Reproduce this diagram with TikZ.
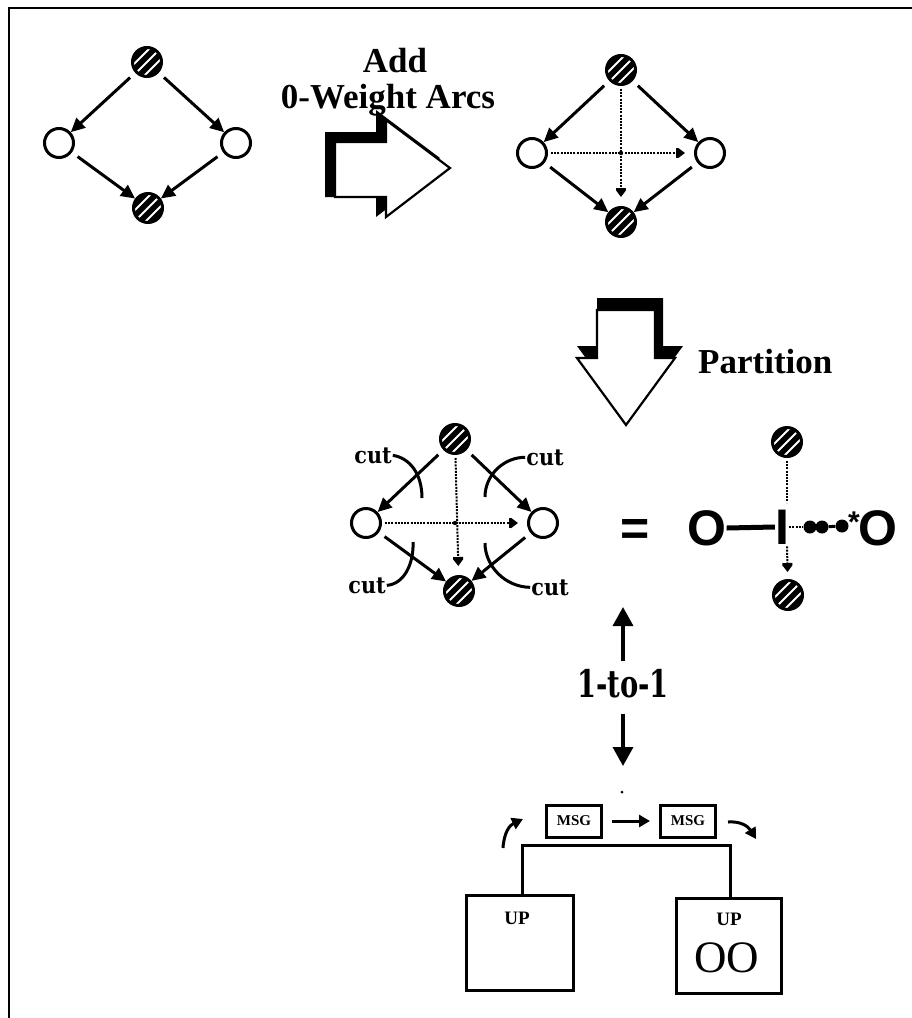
\documentclass[tikz,border=0pt]{standalone}
\usepackage{fontspec}
\setmainfont{Liberation Serif}
\newfontfamily\arialfont{Liberation Sans}
\newfontfamily\heavyserif{DejaVu Serif Condensed}
\usetikzlibrary{arrows.meta,calc}
\begin{document}
\begin{tikzpicture}[x=1pt,y=-1pt,
  hnode/.style={circle,draw,line width=3pt,fill=black,minimum size=29pt,inner sep=0pt,
    path picture={\begin{scope}[shift={(path picture bounding box.center)}]
      \foreach \o in {0,1,2}{\draw[white,line width=2pt] (-25.5+5.5*\o,14.5+5.5*\o) -- (14.5+5.5*\o,-25.5+5.5*\o);}
      \end{scope}}},
  onode/.style={circle,draw,line width=3pt,fill=white,minimum size=29pt,inner sep=0pt},
  garrow/.style={line width=3pt,-{Triangle[length=14pt,width=13pt]},shorten <=7pt},
  zarrow/.style={line width=2pt,dash pattern=on 2pt off 1.2pt,-{Bar[width=10pt,line width=2pt]Triangle[length=7pt,width=10pt]},shorten <=3pt,shorten >=9pt},
  zline/.style={line width=2pt,dash pattern=on 2pt off 1.2pt},
  cutline/.style={line width=3pt},
  cutlbl/.style={font=\heavyserif\bfseries\fontsize{23}{23}\selectfont,inner sep=1pt},
  lbl/.style={font=\bfseries\fontsize{35}{35}\selectfont,inner sep=0pt},
  chem/.style={font=\arialfont\bfseries\fontsize{50}{50}\selectfont,inner sep=0pt},
  blob/.style={circle,fill=black,minimum size=13pt,inner sep=0pt},
  msgbox/.style={draw,line width=3pt,minimum width=55pt,minimum height=32pt,inner sep=0pt,font=\bfseries\fontsize{15}{15}\selectfont},
  upbox/.style={draw,line width=3pt,inner sep=0pt},
  uplbl/.style={font=\bfseries\fontsize{19}{19}\selectfont,inner sep=0pt},
  sarrow/.style={line width=3pt,-{Triangle[length=11pt,width=12pt]}},
  bigarr/.style={line width=3.5pt,-{Triangle[length=19pt,width=20pt]}},
  bigshape/.style={fill=white,draw=black,line width=2.2pt,line join=miter}
]
\useasboundingbox (0,0) rectangle (912,1018);
% frame (top and left edges only)
\draw[line width=2.5pt] (9,1018) -- (9,8) -- (912,8);

% ---------- graph 1 ----------
\node[hnode] (t1) at (147,62) {};
\node[onode] (l1) at (59,143) {};
\node[onode] (r1) at (236,143) {};
\node[hnode] (b1) at (148,208) {};
\draw[garrow] (t1) -- (l1);
\draw[garrow] (t1) -- (r1);
\draw[garrow] (l1) -- (b1);
\draw[garrow] (r1) -- (b1);

% ---------- add arrow ----------
\node[lbl,anchor=base] (add) at (395,72) {Add};
\node[lbl,anchor=base] (zw) at (388,108) {0-Weight Arcs};
\fill[shift={(-10,-10)}] (335,142) -- (386,142) -- (386,120) -- (450,168) -- (386,217) -- (386,197) -- (335,197) -- cycle;
\fill[shift={(-10,0)}] (335,142) -- (386,142) -- (386,120) -- (450,168) -- (386,217) -- (386,197) -- (335,197) -- cycle;
\path[bigshape] (335,142) -- (386,142) -- (386,120) -- (450,168) -- (386,217) -- (386,197) -- (335,197) -- cycle;

% ---------- graph 2 ----------
\node[hnode] (t2) at (621,70) {};
\node[onode] (l2) at (532,153) {};
\node[onode] (r2) at (710,153) {};
\node[hnode] (b2) at (621,222) {};
\draw[garrow] (t2) -- (l2);
\draw[garrow] (t2) -- (r2);
\draw[garrow] (l2) -- (b2);
\draw[garrow] (r2) -- (b2);
\draw[zarrow] (t2) -- (b2);
\draw[zarrow] (l2) -- (r2);
\fill (t2 |- l2) circle (2.2pt);

% ---------- partition arrow ----------
\fill[shift={(8,-12)}] (597,310) -- (655,310) -- (655,358) -- (675,358) -- (626,425) -- (577,358) -- (597,358) -- cycle;
\fill[shift={(0,-12)}] (597,310) -- (655,310) -- (655,358) -- (675,358) -- (626,425) -- (577,358) -- (597,358) -- cycle;
\path[bigshape] (597,310) -- (655,310) -- (655,358) -- (675,358) -- (626,425) -- (577,358) -- (597,358) -- cycle;
\node[lbl,anchor=base west] (part) at (698,373) {Partition};

% ---------- graph 3 ----------
\node[hnode] (t3) at (455,439) {};
\node[onode] (l3) at (366,523) {};
\node[onode] (r3) at (543,523) {};
\node[hnode] (b3) at (459,591) {};
\draw[garrow] (t3) -- (l3);
\draw[garrow] (t3) -- (r3);
\draw[garrow] (l3) -- (b3);
\draw[garrow] (r3) -- (b3);
\draw[zarrow] (t3) -- (b3);
\draw[zarrow] (l3) -- (r3);
\fill (t3 |- l3) circle (2.2pt);

\node[cutlbl,anchor=base] (cA) at (373,463) {cut};
\node[cutlbl,anchor=base] (cB) at (545,465) {cut};
\node[cutlbl,anchor=base] (cC) at (367,593) {cut};
\node[cutlbl,anchor=base] (cD) at (550,595) {cut};
\coordinate (eA) at (422,498);
\coordinate (eB) at (485,497);
\coordinate (eC) at (413,542);
\coordinate (eD) at (485,543);
\draw[cutline] (cA.east) .. controls (410,458) and (422,474) .. (eA);
\draw[cutline] (cB.west) .. controls (505,457) and (485,474) .. (eB);
\draw[cutline] (cC.east) .. controls (405,584) and (414,562) .. (eC);
\draw[cutline] (cD.west) .. controls (505,587) and (485,566) .. (eD);

% ---------- equals and chemistry-like form ----------
\node[chem] (eq) at (635,532) {=};
\node[chem] (oL) at (707,528) {O};
\node[chem] (iI) at (782,527) {I};
\node[chem] (oR) at (878,528) {O};
\node[chem,font=\arialfont\bfseries\fontsize{30}{30}\selectfont] (ast) at (854,522) {*};
\node[hnode] (nt) at (787,442) {};
\node[hnode] (nb) at (788,595) {};
\draw[line width=5pt] (oL.east) -- (iI.west);
\draw[zline,shorten <=3pt,shorten >=7pt] (nt) -- (nt |- iI.north);
\draw[zarrow,shorten <=2pt,shorten >=7pt] (nt |- iI.south) -- (nb);
\node[blob] (k1) at (810,527) {};
\node[blob] (k2) at (822,527) {};
\node[blob] (k3) at (842,526) {};
\draw[zline] (iI.east) -- (k1);
\draw[line width=3pt] (k2) -- (k3);

% ---------- 1-to-1 ----------
\node[font=\heavyserif\bfseries\fontsize{38}{38}\selectfont,inner sep=0pt] (one) at (623,684) {\scalebox{0.8}[1]{1-to-1}};
\coordinate (uptip) at (623,607);
\coordinate (dntip) at (623,766);
\draw[bigarr,shorten <=8pt] (one) -- (uptip);
\draw[bigarr,shorten <=15pt] (one) -- (dntip);
\fill (622,792) circle (1.5pt);

% ---------- messages and processors ----------
\node[msgbox] (m1) at (574,821) {MSG};
\node[msgbox] (m2) at (688,821) {MSG};
\draw[sarrow,shorten <=9pt,shorten >=9pt] (m1) -- (m2);
\coordinate (ca1) at (503,848);
\coordinate (ca2) at (523,819);
\draw[sarrow] (ca1) .. controls (504,832) and (510,825) .. (ca2);
\coordinate (cb1) at (728,822);
\coordinate (cb2) at (756,839);
\draw[sarrow] (cb1) .. controls (740,821) and (748,826) .. (cb2);

\node[upbox,minimum width=107pt,minimum height=95pt] (u1) at (519.5,942.5) {};
\node[upbox,minimum width=105pt,minimum height=95pt] (u2) at (728.5,945.5) {};
\draw[line width=3pt] ([xshift=2.5pt]u1.north) -- ++(0,-48) -| ([xshift=1.5pt]u2.north);
\node[uplbl] (u1t) at (517,918) {UP};
\node[uplbl] (u2t) at (729,919) {UP};
\node[font=\fontsize{45}{45}\selectfont,inner sep=0pt] (oo) at (727,958) {OO};
\end{tikzpicture}
\end{document}
